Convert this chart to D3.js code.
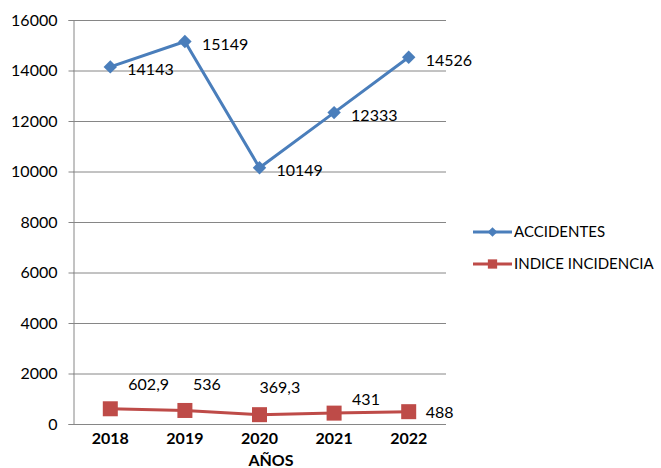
<!DOCTYPE html>
<meta charset="utf-8">
<style>
body { margin: 0; background: #fff; }
text { font-family: Lato, "Open Sans", sans-serif; fill: #000; }
.axis path, .axis line { stroke: #868686; }
.grid line { stroke: #868686; }
</style>
<svg width="661" height="468"></svg>
<script src="https://d3js.org/d3.v7.min.js"></script>
<script>

var years = ["2018", "2019", "2020", "2021", "2022"];
var accidentes = [14143, 15149, 10149, 12333, 14526];
var incidencia = [602.9, 536, 369.3, 431, 488];
var incidenciaLabels = ["602,9", "536", "369,3", "431", "488"];
var yTicks = [0, 2000, 4000, 6000, 8000, 10000, 12000, 14000, 16000];

// label nudges for the red series, as they sit in the original
var incOffsets = [[18, -24], [8, -26], [0, -27], [18, -14], [17, 1]];

var svg = d3.select("svg"),
    margin = {top: 20, right: 215, bottom: 44, left: 73},
    width = +svg.attr("width") - margin.left - margin.right,
    height = +svg.attr("height") - margin.top - margin.bottom,
    g = svg.append("g").attr("transform", "translate(" + margin.left + "," + margin.top + ")");

var x = d3.scaleBand().domain(years).range([0, width]);
var y = d3.scaleLinear().domain([0, 16000]).range([height, 0]);
var cx = function(d, i) { return x(years[i]) + x.bandwidth() / 2; };

g.append("g")
    .attr("class", "grid")
  .selectAll("line")
  .data(yTicks.slice(1))
  .enter().append("line")
    .attr("x1", 0)
    .attr("x2", width)
    .attr("y1", function(d) { return y(d) + 0.5; })
    .attr("y2", function(d) { return y(d) + 0.5; });

var yAxis = g.append("g")
    .attr("class", "axis")
    .attr("transform", "translate(0.5,0)")
    .call(d3.axisLeft(y).tickValues(yTicks).tickSize(5).tickPadding(11).tickFormat(d3.format("d")));
yAxis.selectAll("text").style("font-size", "16px");

var xAxis = g.append("g")
    .attr("class", "axis")
    .attr("transform", "translate(0," + (height + 0.5) + ")")
    .call(d3.axisBottom(x).tickSize(0).tickPadding(8));
xAxis.select(".domain").attr("d", "M0,0H" + width);
xAxis.selectAll("text").style("font-size", "16px").style("font-weight", "bold");

svg.append("text")
    .attr("x", 271)
    .attr("y", 466)
    .attr("text-anchor", "middle")
    .style("font-size", "16px")
    .style("font-weight", "bold")
    .text("AÑOS");

var line = d3.line().x(cx).y(function(d) { return y(d); });

var blue = "#4a7ebb", red = "#be4b48";

g.append("path")
    .datum(accidentes)
    .attr("fill", "none")
    .attr("stroke", blue)
    .attr("stroke-width", 3)
    .attr("stroke-linejoin", "round")
    .attr("d", line);

g.append("path")
    .datum(incidencia)
    .attr("fill", "none")
    .attr("stroke", red)
    .attr("stroke-width", 3)
    .attr("stroke-linejoin", "round")
    .attr("d", line);

g.selectAll(".dia")
    .data(accidentes)
  .enter().append("path")
    .attr("class", "dia")
    .attr("fill", blue)
    .attr("transform", function(d, i) { return "translate(" + cx(d, i) + "," + y(d) + ")"; })
    .attr("d", d3.symbol(d3.symbolDiamond2, 115));

g.selectAll(".sq")
    .data(incidencia)
  .enter().append("rect")
    .attr("class", "sq")
    .attr("fill", red)
    .attr("x", function(d, i) { return cx(d, i) - 7.5; })
    .attr("y", function(d) { return y(d) - 7.5; })
    .attr("width", 15)
    .attr("height", 15);

g.selectAll(".acc-label")
    .data(accidentes)
  .enter().append("text")
    .attr("class", "acc-label")
    .attr("x", function(d, i) { return cx(d, i) + 17; })
    .attr("y", function(d) { return y(d) + 3; })
    .attr("dy", "0.35em")
    .style("font-size", "16px")
    .text(function(d) { return d; });

g.selectAll(".inc-label")
    .data(incidencia)
  .enter().append("text")
    .attr("class", "inc-label")
    .attr("x", function(d, i) { return cx(d, i) + incOffsets[i][0]; })
    .attr("y", function(d, i) { return y(d) + incOffsets[i][1]; })
    .attr("dy", "0.35em")
    .style("font-size", "16px")
    .text(function(d, i) { return incidenciaLabels[i]; });

// legend
var legend = svg.append("g")
    .attr("transform", "translate(473,0)");

var items = [
  {name: "ACCIDENTES", color: blue, y: 232, shape: "diamond"},
  {name: "INDICE INCIDENCIA", color: red, y: 264, shape: "square"}
];

var li = legend.selectAll(".item")
    .data(items)
  .enter().append("g")
    .attr("transform", function(d) { return "translate(0," + d.y + ")"; });

li.append("line")
    .attr("x2", 39)
    .attr("stroke", function(d) { return d.color; })
    .attr("stroke-width", 3);

li.append("path")
    .attr("fill", function(d) { return d.color; })
    .attr("transform", "translate(19.5,0)")
    .attr("d", function(d) {
      return d.shape === "diamond" ? d3.symbol(d3.symbolDiamond2, 60)() : d3.symbol(d3.symbolSquare2, 110)();
    });

li.append("text")
    .attr("x", 41)
    .attr("dy", "0.35em")
    .style("font-size", "15px")
    .text(function(d) { return d.name; });

</script>
